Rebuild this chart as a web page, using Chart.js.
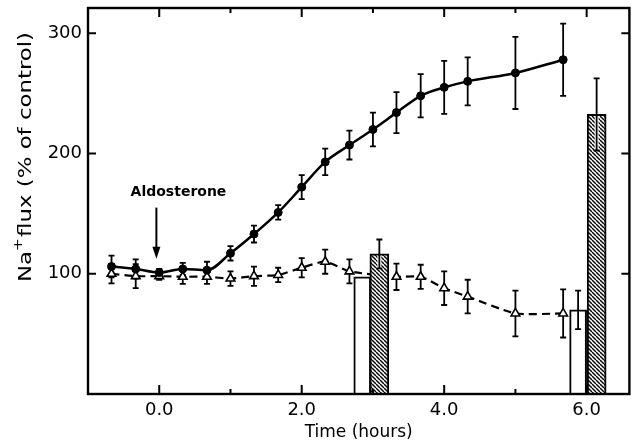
<!DOCTYPE html>
<html>
<head>
<meta charset="utf-8">
<script src="https://cdn.jsdelivr.net/npm/chart.js@4.4.0/dist/chart.umd.min.js"></script>
<style>
    html, body { margin: 0; padding: 0; background: #fff; }
    #wrap { width: 636px; height: 448px; }
</style>
</head>
<body>
<div id="wrap"><canvas id="chart" width="636" height="448"></canvas></div>
<script>
// aldosterone-treated tissue (filled circles, solid line)
var aldoTimes = [-0.67, -0.33, 0, 0.33, 0.67, 1.0, 1.33, 1.67, 2.0, 2.33, 2.67, 3.0, 3.33, 3.67, 4.0, 4.33, 5.0, 5.67];
var aldoFlux  = [106, 104, 101, 104, 103, 117, 133, 151, 172, 193, 207, 220, 234, 248, 255, 260, 267, 278];
var aldoErr   = [9, 8, 3, 5, 7, 6, 7, 6, 10, 11, 12, 14, 17, 18, 22, 20, 30, 30];

// control tissue (open triangles, dashed line)
var ctrlTimes = [-0.67, -0.33, 0, 0.33, 0.67, 1.0, 1.33, 1.67, 2.0, 2.33, 2.67, 3.33, 3.67, 4.0, 4.33, 5.0, 5.67];
var ctrlFlux  = [100, 98, 98, 97.5, 97.5, 96, 98, 99, 105, 110, 102, 97.5, 97.5, 88, 81, 67, 67];
var ctrlErr   = [8, 10, 3, 6, 6, 6, 8, 6, 8, 10, 10, 11, 10, 14, 14, 19, 20];

// open bars and hatched bars
var openBarTimes  = [2.85, 5.88];
var openBarFlux   = [97.5, 70];
var openBarErr    = [0, 16];
var hatchBarTimes = [3.09, 6.14];
var hatchBarFlux  = [116.5, 232.5];
var hatchBarErr   = [12, 30];

// axis ticks
var xTickValues = [0, 1, 2, 3, 4, 5, 6];
var xTickLabels = ['0.0', '', '2.0', '', '4.0', '', '6.0'];
var yTickValues = [100, 200, 300];
var yTickLabels = ['100', '200', '300'];

var FONT = '"DejaVu Sans", "Liberation Sans", sans-serif';

function toPoints(xs, ys) {
    return xs.map(function (t, i) { return { x: t, y: ys[i] }; });
}

function makeHatch(ctx) {
    var s = 4;
    var c = document.createElement('canvas');
    c.width = s; c.height = s;
    var g = c.getContext('2d');
    g.fillStyle = '#fff';
    g.fillRect(0, 0, s, s);
    g.strokeStyle = '#000';
    g.lineWidth = 1.4;
    [-s, 0, s].forEach(function (k) {
        g.beginPath();
        g.moveTo(k, 0);
        g.lineTo(k + s, s);
        g.stroke();
    });
    return ctx.createPattern(c, 'repeat');
}

function drawErrors(chart, ctx, i, underlay) {
    var ds = chart.data.datasets[i];
    var meta = chart.getDatasetMeta(i);
    var y = chart.scales.y;
    ds.data.forEach(function (p, j) {
        var e = ds.errors[j];
        if (!e) return;
        var px = meta.data[j].x;
        var y1 = y.getPixelForValue(p.y + e);
        var y2 = y.getPixelForValue(p.y - e);
        if (underlay) {
            ctx.strokeStyle = '#fff';
            ctx.lineWidth = 4;
            ctx.beginPath();
            ctx.moveTo(px, y.getPixelForValue(p.y) + 2);
            ctx.lineTo(px, y2);
            ctx.stroke();
        }
        ctx.strokeStyle = '#000';
        ctx.lineWidth = 1.8;
        ctx.beginPath();
        ctx.moveTo(px, y1); ctx.lineTo(px, y2);
        ctx.moveTo(px - 3, y1); ctx.lineTo(px + 3, y1);
        ctx.moveTo(px - 3, y2); ctx.lineTo(px + 3, y2);
        ctx.stroke();
    });
}

var figurePlugin = {
    id: 'figure',
    beforeDatasetsDraw: function (chart) {
        var ctx = chart.ctx;
        ctx.save();
        chart.data.datasets.forEach(function (ds, i) {
            if (ds.type === 'line') drawErrors(chart, ctx, i, false);
        });
        ctx.restore();
    },
    afterDatasetsDraw: function (chart) {
        var ctx = chart.ctx;
        ctx.save();
        chart.data.datasets.forEach(function (ds, i) {
            if (ds.type === 'bar') drawErrors(chart, ctx, i, true);
        });
        ctx.restore();
    },
    afterDraw: function (chart) {
        var ctx = chart.ctx;
        var a = chart.chartArea;
        var x = chart.scales.x, y = chart.scales.y;
        ctx.save();
        ctx.strokeStyle = '#000';
        ctx.lineWidth = 2.4;
        ctx.strokeRect(a.left, a.top, a.right - a.left, a.bottom - a.top);

        // inward ticks on all four sides
        ctx.lineWidth = 2;
        ctx.beginPath();
        xTickValues.forEach(function (v, i) {
            var px = x.getPixelForValue(v);
            var len = xTickLabels[i] ? 9 : 5;
            ctx.moveTo(px, a.bottom); ctx.lineTo(px, a.bottom - len);
            ctx.moveTo(px, a.top); ctx.lineTo(px, a.top + len);
        });
        yTickValues.forEach(function (v) {
            var py = y.getPixelForValue(v);
            ctx.moveTo(a.left, py); ctx.lineTo(a.left + 8, py);
            ctx.moveTo(a.right, py); ctx.lineTo(a.right - 8, py);
        });
        ctx.stroke();

        // axis titles
        ctx.fillStyle = '#000';
        ctx.font = '17px ' + FONT;
        ctx.textAlign = 'center';
        ctx.textBaseline = 'middle';
        ctx.fillText('Time (hours)', (a.left + a.right) / 2, 433);

        ctx.save();
        ctx.translate(26, 157);
        ctx.rotate(-Math.PI / 2);
        ctx.textAlign = 'left';
        ctx.textBaseline = 'middle';
        var big = '18px ' + FONT, small = '12px ' + FONT;
        ctx.font = big;
        var w1 = ctx.measureText('Na').width;
        var w3 = ctx.measureText('flux (% of control)').width;
        ctx.font = small;
        var w2 = ctx.measureText('+').width + 1;
        var total = w1 + w2 + w3;
        ctx.scale(250 / total, 1);
        var sx = -total / 2;
        ctx.font = big;
        ctx.fillText('Na', sx, 0);
        ctx.font = small;
        ctx.fillText('+', sx + w1, -7);
        ctx.font = big;
        ctx.fillText('flux (% of control)', sx + w1 + w2, 0);
        ctx.restore();

        // aldosterone marker
        var ax = x.getPixelForValue(-0.04);
        var aTop = y.getPixelForValue(155), aTip = y.getPixelForValue(112.5);
        ctx.lineWidth = 2;
        ctx.beginPath();
        ctx.moveTo(ax, aTop); ctx.lineTo(ax, aTip - 8);
        ctx.stroke();
        ctx.beginPath();
        ctx.moveTo(ax - 4, aTip - 12);
        ctx.lineTo(ax + 4, aTip - 12);
        ctx.lineTo(ax, aTip);
        ctx.closePath();
        ctx.fill();
        ctx.font = 'bold 14px ' + FONT;
        ctx.textAlign = 'center';
        ctx.fillText('Aldosterone', x.getPixelForValue(0.27), y.getPixelForValue(167.5));
        ctx.restore();
    }
};

var canvas = document.getElementById('chart');
var context = canvas.getContext('2d');
var hatch = makeHatch(context);

new Chart(context, {
    data: {
        datasets: [{
            type: 'line',
            label: 'Aldosterone',
            data: toPoints(aldoTimes, aldoFlux),
            errors: aldoErr,
            borderColor: '#000',
            backgroundColor: '#000',
            borderWidth: 2.5,
            pointRadius: 4,
            pointBorderWidth: 1,
            cubicInterpolationMode: 'monotone',
            order: 0
        }, {
            type: 'bar',
            label: 'Open bars',
            data: toPoints(openBarTimes, openBarFlux),
            errors: openBarErr,
            backgroundColor: '#fff',
            borderColor: '#000',
            borderWidth: 2,
            barThickness: 17,
            grouped: false,
            order: 1
        }, {
            type: 'bar',
            label: 'Hatched bars',
            data: toPoints(hatchBarTimes, hatchBarFlux),
            errors: hatchBarErr,
            backgroundColor: hatch,
            borderColor: '#000',
            borderWidth: 2,
            barThickness: 19,
            grouped: false,
            order: 1
        }, {
            type: 'line',
            label: 'Control',
            data: toPoints(ctrlTimes, ctrlFlux),
            errors: ctrlErr,
            borderColor: '#000',
            borderWidth: 2.2,
            borderDash: [8, 5],
            pointStyle: 'triangle',
            pointRadius: 5,
            pointBackgroundColor: '#fff',
            pointBorderColor: '#000',
            pointBorderWidth: 1.6,
            tension: 0.2,
            order: 2
        }]
    },
    options: {
        responsive: false,
        animation: false,
        devicePixelRatio: 1,
        layout: { padding: { top: 8, right: 5, left: 0, bottom: 0 } },
        plugins: {
            legend: { display: false },
            tooltip: { enabled: false }
        },
        scales: {
            x: {
                type: 'linear',
                offset: false,
                min: -1,
                max: 6.6,
                afterBuildTicks: function (s) {
                    s.ticks = xTickValues.map(function (v) { return { value: v }; });
                },
                afterFit: function (s) {
                    s.height = 54;
                    s.paddingLeft = 0; s.paddingRight = 0;
                    s.paddingTop = 0; s.paddingBottom = 0;
                },
                grid: { display: false, drawTicks: false, offset: false },
                border: { display: false },
                ticks: {
                    autoSkip: false,
                    maxRotation: 0,
                    padding: 6,
                    color: '#000',
                    font: { family: FONT, size: 18 },
                    callback: function (v, i) { return xTickLabels[i]; }
                }
            },
            y: {
                type: 'linear',
                min: 0,
                max: 321,
                afterBuildTicks: function (s) {
                    s.ticks = yTickValues.map(function (v) { return { value: v }; });
                },
                afterFit: function (s) {
                    s.width = 88;
                    s.paddingLeft = 0; s.paddingRight = 0;
                    s.paddingTop = 0; s.paddingBottom = 0;
                },
                grid: { display: false, drawTicks: false },
                border: { display: false },
                ticks: {
                    padding: 6,
                    color: '#000',
                    font: { family: FONT, size: 18 },
                    callback: function (v, i) { return yTickLabels[i]; }
                }
            }
        }
    },
    plugins: [figurePlugin]
});
</script>
</body>
</html>
